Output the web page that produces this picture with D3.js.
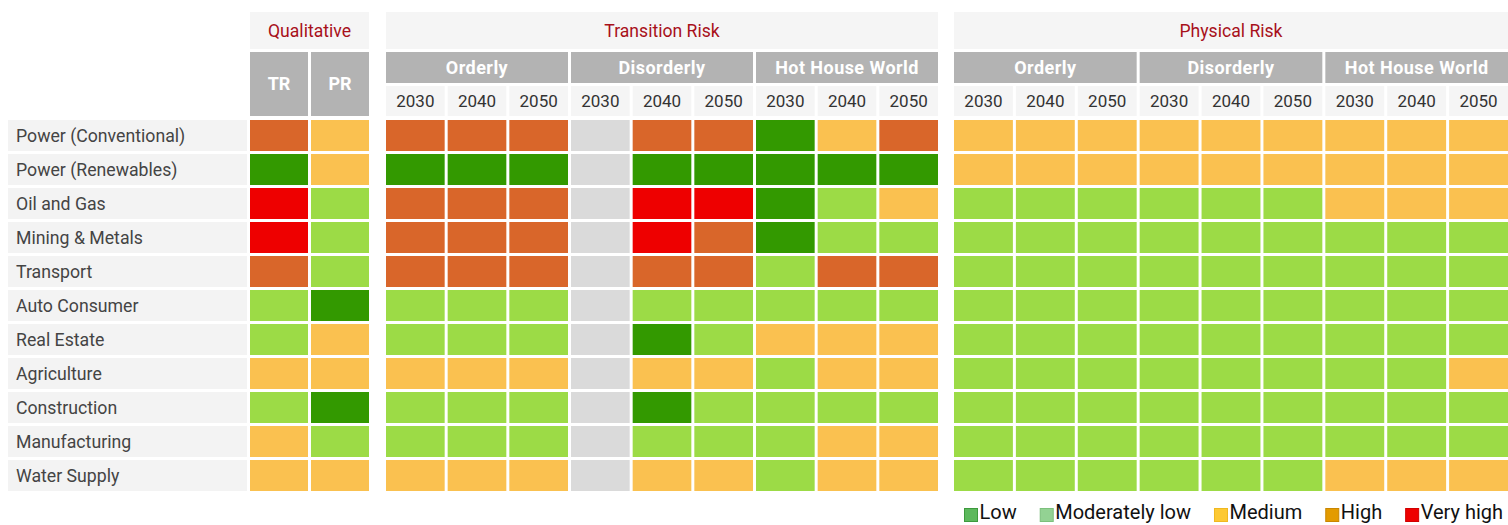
<!DOCTYPE html>
<html>
<head>
<meta charset="utf-8">
<script src="https://cdn.jsdelivr.net/npm/d3@7"></script>
<style>
  html, body { margin: 0; padding: 0; background: #ffffff; }
  svg { display: block; font-family: Roboto, "Noto Sans", sans-serif; }
</style>
</head>
<body>
<svg id="chart" width="1508" height="525"></svg>
<script>
// ---------- DATA ----------
const sectors = ["Power (Conventional)", "Power (Renewables)", "Oil and Gas", "Mining & Metals",
  "Transport", "Auto Consumer", "Real Estate", "Agriculture", "Construction", "Manufacturing", "Water Supply"];
const sectionTitles = ["Qualitative", "Transition Risk", "Physical Risk"];
const qualitativeCols = ["TR", "PR"];
const scenarios = ["Orderly", "Disorderly", "Hot House World"];
const years = ["2030", "2040", "2050"];
const levels = ["Low", "Moderately low", "Medium", "High", "Very high"];
// level index: 0 Low, 1 Moderately low, 2 Medium, 3 High, 4 Very high, null = not assessed
const qualitative = [
  [3, 2], [0, 2], [4, 1], [4, 1], [3, 1], [1, 0], [1, 2], [2, 2], [1, 0], [2, 1], [2, 2]
];
const transition = [
  [3, 3, 3, null, 3, 3, 0, 2, 3],
  [0, 0, 0, null, 0, 0, 0, 0, 0],
  [3, 3, 3, null, 4, 4, 0, 1, 2],
  [3, 3, 3, null, 4, 3, 0, 1, 1],
  [3, 3, 3, null, 3, 3, 1, 3, 3],
  [1, 1, 1, null, 1, 1, 1, 1, 1],
  [1, 1, 1, null, 0, 1, 2, 2, 2],
  [2, 2, 2, null, 2, 2, 1, 2, 2],
  [1, 1, 1, null, 0, 1, 1, 1, 1],
  [1, 1, 1, null, 1, 1, 1, 2, 2],
  [2, 2, 2, null, 2, 2, 1, 2, 2]
];
const physical = [
  [2, 2, 2, 2, 2, 2, 2, 2, 2],
  [2, 2, 2, 2, 2, 2, 2, 2, 2],
  [1, 1, 1, 1, 1, 1, 2, 2, 2],
  [1, 1, 1, 1, 1, 1, 1, 1, 1],
  [1, 1, 1, 1, 1, 1, 1, 1, 1],
  [1, 1, 1, 1, 1, 1, 1, 1, 1],
  [1, 1, 1, 1, 1, 1, 1, 1, 1],
  [1, 1, 1, 1, 1, 1, 1, 1, 2],
  [1, 1, 1, 1, 1, 1, 1, 1, 1],
  [1, 1, 1, 1, 1, 1, 1, 1, 1],
  [1, 1, 1, 1, 1, 1, 2, 2, 2]
];

// ---------- STYLE ----------
const cellColors = ["#339900", "#9cdb46", "#fac150", "#d9662a", "#ee0000"];
const naColor = "#dadada";
const legendColors = ["#5cb85c", "#93d293", "#fdc933", "#e39b00", "#ee0000"];
const legendStroke = ["#3d9a3d", "#7cc07c", "#f0b820", "#c98600", "#d00000"];

const svg = d3.select("#chart");
const GAP = 3;

// scenario-year column list
const scenYearCols = [];
scenarios.forEach(s => years.forEach(y => scenYearCols.push({ s, y })));

const sections = [
  { title: sectionTitles[0], x0: 250, x1: 369, cols: qualitativeCols, data: qualitative, type: "q" },
  { title: sectionTitles[1], x0: 386, x1: 938, cols: scenYearCols, data: transition, type: "s" },
  { title: sectionTitles[2], x0: 954, x1: 1508, cols: scenYearCols, data: physical, type: "s" }
];

const y = d3.scaleBand().domain(sectors).range([120, 491]).paddingInner(GAP / 34);
const rowH = y.bandwidth();

const titleY0 = 12, titleY1 = 49, grpY0 = 52, grpY1 = 83, yrY0 = 86, yrY1 = 116;

// row labels
const labels = svg.append("g");
labels.selectAll("rect").data(sectors).join("rect")
  .attr("x", 8).attr("width", 239)
  .attr("y", d => y(d)).attr("height", rowH)
  .attr("fill", "#f3f3f3");
labels.selectAll("text").data(sectors).join("text")
  .attr("x", 16).attr("y", d => y(d) + rowH / 2)
  .attr("dy", "0.35em")
  .attr("font-size", 17.7).attr("fill", "#444")
  .text(d => d);

sections.forEach(sec => {
  const n = sec.cols.length;
  const W = sec.x1 - sec.x0;
  const x = d3.scaleBand().domain(d3.range(n)).range([sec.x0, sec.x1]).paddingInner(GAP * n / (W + GAP));
  const bw = x.bandwidth();
  const g = svg.append("g");

  // section title
  g.append("rect").attr("x", sec.x0).attr("y", titleY0).attr("width", W).attr("height", titleY1 - titleY0).attr("fill", "#f5f5f5");
  g.append("text").attr("x", (sec.x0 + sec.x1) / 2).attr("y", (titleY0 + titleY1) / 2).attr("dy", "0.35em")
    .attr("text-anchor", "middle").attr("font-size", 17.6).attr("fill", "#a8101a").text(sec.title);

  if (sec.type === "q") {
    g.selectAll("rect.qh").data(sec.cols).join("rect").attr("class", "qh")
      .attr("x", (d, i) => x(i)).attr("width", bw).attr("y", grpY0).attr("height", yrY1 - grpY0).attr("fill", "#b3b3b3");
    g.selectAll("text.qh").data(sec.cols).join("text").attr("class", "qh")
      .attr("x", (d, i) => x(i) + bw / 2).attr("y", (grpY0 + yrY1) / 2).attr("dy", "0.35em")
      .attr("text-anchor", "middle").attr("font-size", 18).attr("font-weight", "bold").attr("fill", "#fff").text(d => d);
  } else {
    scenarios.forEach((s, si) => {
      const gx0 = x(si * 3), gx1 = x(si * 3 + 2) + bw;
      g.append("rect").attr("x", gx0).attr("width", gx1 - gx0).attr("y", grpY0).attr("height", grpY1 - grpY0).attr("fill", "#b3b3b3");
      g.append("text").attr("x", (gx0 + gx1) / 2).attr("y", (grpY0 + grpY1) / 2).attr("dy", "0.35em")
        .attr("text-anchor", "middle").attr("font-size", 18).attr("letter-spacing", 0.45)
        .attr("font-weight", "bold").attr("fill", "#fff").text(s);
    });
    g.selectAll("rect.yr").data(sec.cols).join("rect").attr("class", "yr")
      .attr("x", (d, i) => x(i)).attr("width", bw).attr("y", yrY0).attr("height", yrY1 - yrY0).attr("fill", "#f5f5f5");
    g.selectAll("text.yr").data(sec.cols).join("text").attr("class", "yr")
      .attr("x", (d, i) => x(i) + bw / 2).attr("y", (yrY0 + yrY1) / 2).attr("dy", "0.35em")
      .attr("text-anchor", "middle").attr("font-size", 17).attr("fill", "#333").text(d => d.y);
  }

  // cells
  const cells = [];
  sec.data.forEach((row, ri) => row.forEach((v, ci) => cells.push({ r: sectors[ri], c: ci, v })));
  g.selectAll("rect.cell").data(cells).join("rect").attr("class", "cell")
    .attr("x", d => x(d.c)).attr("width", bw)
    .attr("y", d => y(d.r)).attr("height", rowH)
    .attr("fill", d => d.v === null ? naColor : cellColors[d.v]);
});

// legend
const lg = svg.append("g").attr("transform", "translate(964,508)");
let lx = 0;
levels.forEach((lev, i) => {
  const item = lg.append("g").attr("transform", `translate(${lx},0)`);
  item.append("rect").attr("x", 0.5).attr("y", 0.5).attr("width", 13).attr("height", 13)
    .attr("fill", legendColors[i]).attr("stroke", legendStroke[i]).attr("stroke-width", 1);
  const t = item.append("text").attr("x", 15.5).attr("y", 11)
    .attr("font-size", 20).attr("fill", "#111").text(lev);
  lx += 15.5 + t.node().getComputedTextLength() + 23;
});
</script>
</body>
</html>
